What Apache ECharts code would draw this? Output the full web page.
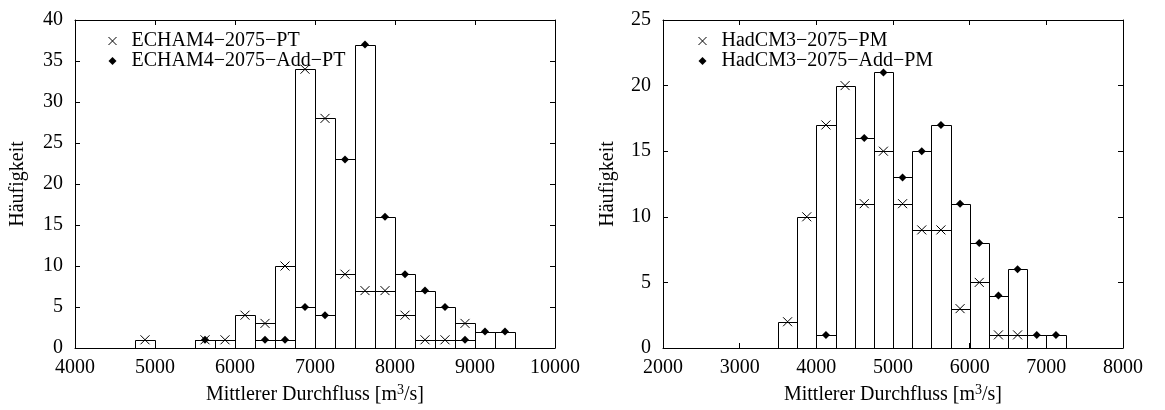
<!DOCTYPE html>
<html>
<head>
<meta charset="utf-8">
<script src="https://cdn.jsdelivr.net/npm/echarts@6/dist/echarts.min.js"></script>
<style>
html,body{margin:0;padding:0;background:#fff;}
#c{width:1165px;height:410px;}
</style>
</head>
<body>
<div id="c"></div>
<script>
// ---- data ----
const BIN = 250;
const leftCenters = [4875,5125,5375,5625,5875,6125,6375,6625,6875,7125,7375,7625,7875,8125,8375,8625,8875,9125,9375];
const leftPT      = [1,null,null,1,1,4,3,10,34,28,9,7,7,4,1,1,3,null,null];
const leftAddPT   = [null,null,null,1,null,null,1,1,5,4,23,37,16,9,7,5,1,2,2];

const rightCenters = [3625,3875,4125,4375,4625,4875,5125,5375,5625,5875,6125,6375,6625,6875,7125];
const rightPM      = [2,10,17,20,11,15,11,9,9,3,5,1,1,null,null];
const rightAddPM   = [null,null,1,null,16,21,13,15,17,11,8,4,6,1,1];

const leftNames  = ['ECHAM4\u22122075\u2212PT', 'ECHAM4\u22122075\u2212Add\u2212PT'];
const rightNames = ['HadCM3\u22122075\u2212PM', 'HadCM3\u22122075\u2212Add\u2212PM'];
const xLabel = 'Mittlerer Durchfluss [m{sup|3}/s]';
const yLabel = 'H\u00e4ufigkeit';

// ---- helpers ----
const FONT = 'Liberation Serif';
const FS = 20;
function pairs(cs, vs){ const o=[]; cs.forEach((c,i)=>{ if(vs[i]!=null) o.push([c,vs[i]]); }); return o; }
const crossPath = 'path://M0,0L10,10M0,10L10,0';
const crossStyle = {color:'none', borderColor:'#000', borderWidth:1, opacity:1};
const diamondStyle = {color:'#000', borderWidth:0, opacity:1};

function boxes(cs, vs, xi, yi, id){
  return {
    type:'custom', name:'box'+id, xAxisIndex:xi, yAxisIndex:yi, z:1, silent:true,
    data: pairs(cs, vs),
    renderItem: function(params, api){
      const c = api.value(0), v = api.value(1);
      const p0 = api.coord([c-BIN/2, v]);
      const p1 = api.coord([c+BIN/2, 0]);
      const x0 = Math.round(p0[0])+0.5, x1 = Math.round(p1[0])+0.5;
      const y0 = Math.round(p0[1])+0.5, y1 = Math.round(p1[1])+0.5;
      return {type:'rect', shape:{x:x0,y:y0,width:x1-x0,height:y1-y0},
              style:{fill:'none', stroke:'#000', lineWidth:1}};
    }
  };
}
function marks(name, cs, vs, xi, yi, cross){
  return {
    type:'scatter', name:name, xAxisIndex:xi, yAxisIndex:yi, z:5, silent:true,
    data: pairs(cs, vs),
    symbol: cross ? crossPath : 'diamond',
    symbolSize: cross ? 9 : 8,
    itemStyle: cross ? crossStyle : diamondStyle
  };
}

const axisLine = {show:true, onZero:false, lineStyle:{color:'#000', width:1}};
const tick = {show:true, inside:true, length:5, lineStyle:{color:'#000', width:1}};
const lbl = {color:'#000', fontFamily:FONT, fontSize:FS, formatter:v=>String(v)};

function xAxes(gi, min, max){
  return [
    {type:'value', gridIndex:gi, position:'bottom', min:min, max:max, interval:1000,
     axisLine:axisLine, axisTick:tick, splitLine:{show:false},
     axisLabel:Object.assign({margin:10}, lbl),
     name:xLabel, nameLocation:'middle', nameGap:35,
     nameTextStyle:{color:'#000', fontFamily:FONT, fontSize:FS,
       rich:{sup:{fontFamily:FONT, fontSize:14, color:'#000', verticalAlign:'top', padding:[0,0,10,0]}}}},
    {type:'value', gridIndex:gi, position:'top', min:min, max:max, interval:1000,
     axisLine:axisLine, axisTick:tick, splitLine:{show:false}, axisLabel:{show:false}}
  ];
}
function yAxes(gi, max, gap){
  return [
    {type:'value', gridIndex:gi, position:'left', min:0, max:max, interval:5,
     axisLine:axisLine, axisTick:tick, splitLine:{show:false},
     axisLabel:Object.assign({margin:12}, lbl),
     name:yLabel, nameLocation:'middle', nameGap:gap, nameRotate:90,
     nameTextStyle:{color:'#000', fontFamily:FONT, fontSize:FS}},
    {type:'value', gridIndex:gi, position:'right', min:0, max:max, interval:5,
     axisLine:axisLine, axisTick:tick, splitLine:{show:false}, axisLabel:{show:false}}
  ];
}
function legend(left, names){
  return {left:left, top:26, orient:'vertical', itemWidth:8, itemHeight:8, itemGap:0,
    selectedMode:false,
    textStyle:{color:'#000', fontFamily:FONT, fontSize:FS, lineHeight:18.5, padding:[0,0,0,10]},
    data:[
      {name:names[0], icon:crossPath, itemStyle:crossStyle},
      {name:names[1], icon:'diamond', itemStyle:diamondStyle}
    ]};
}

const option = {
  animation:false,
  backgroundColor:'#fff',
  grid:[
    {left:75, top:20, width:480, height:330},
    {left:663, top:20, width:460, height:330}
  ],
  xAxis: xAxes(0, 4000, 10000).concat(xAxes(1, 2000, 8000)),
  yAxis: yAxes(0, 40, 47).concat(yAxes(1, 25, 45)),
  legend:[legend(101, leftNames), legend(691, rightNames)],
  series:[
    boxes(leftCenters, leftPT, 0, 0, 'L1'),
    boxes(leftCenters, leftAddPT, 0, 0, 'L2'),
    marks(leftNames[0], leftCenters, leftPT, 0, 0, true),
    marks(leftNames[1], leftCenters, leftAddPT, 0, 0, false),
    boxes(rightCenters, rightPM, 2, 2, 'R1'),
    boxes(rightCenters, rightAddPM, 2, 2, 'R2'),
    marks(rightNames[0], rightCenters, rightPM, 2, 2, true),
    marks(rightNames[1], rightCenters, rightAddPM, 2, 2, false)
  ]
};
echarts.init(document.getElementById('c'), null, {renderer:'canvas'}).setOption(option);
</script>
</body>
</html>
